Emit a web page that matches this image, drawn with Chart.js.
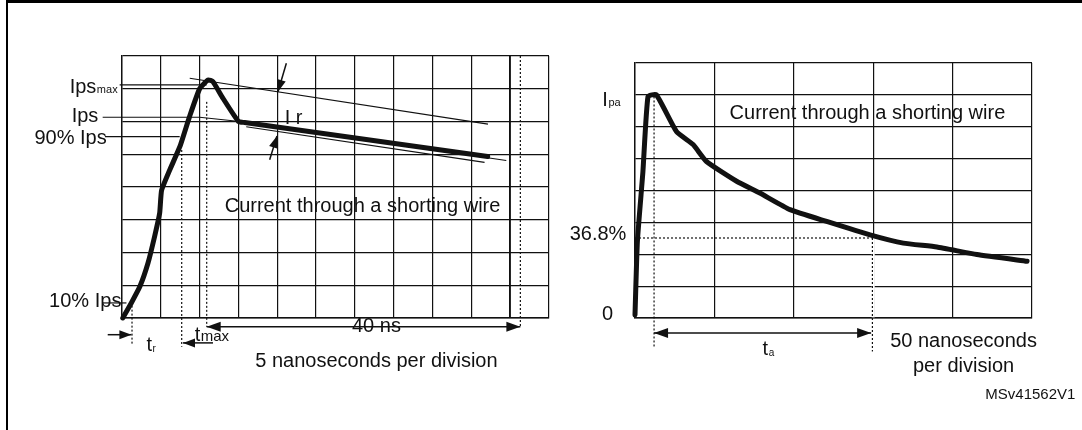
<!DOCTYPE html>
<html>
<head>
<meta charset="utf-8">
<script src="https://cdn.jsdelivr.net/npm/chart.js@4.4.1/dist/chart.umd.min.js"></script>
<style>
  html, body { margin: 0; padding: 0; background: #fff; }
  body { width: 1082px; height: 430px; position: relative; overflow: hidden; }
  #frame { position: absolute; left: 6px; top: 0; width: 1076px; height: 430px;
           border-top: 3px solid #000; border-left: 2px solid #000; box-sizing: border-box; }
  canvas { position: absolute; top: 0; }
  #left { left: 0; }
  #right { left: 560px; }
</style>
</head>
<body>
<div id="frame"></div>
<canvas id="left" width="560" height="430"></canvas>
<canvas id="right" width="522" height="430"></canvas>
<script>
const ink = '#111';
const font = '"Liberation Sans", Arial, sans-serif';

// left panel: x in ns (5 ns per division), y in grid divisions
const pulseNs  = [0.1, 1.2, 2.3, 3.35, 4.2, 4.85, 5.1, 6.15, 7.45, 8.7, 10.0, 11.1, 11.7, 13.0, 15.0, 15.8, 47.1];
const pulseDiv = [0.0, 0.46, 0.96, 1.68, 2.49, 3.2, 3.9, 4.52, 5.23, 6.15, 7.0, 7.27, 7.22, 6.71, 6.0, 5.97, 4.93];

// Ipsmax, Ips, 90% Ips, 10% Ips
const levelDiv = [7.12, 6.13, 5.54, 0.46];

const upperTangentNs  = [8.72, 47.14];
const upperTangentDiv = [7.32, 5.92];
const lowerTangentNs  = [16.0, 46.7];
const lowerTangentDiv = [5.84, 4.75];
const midTangentNs    = [15.55, 49.5];
const midTangentDiv   = [5.99, 4.81];

// time markers (ns): 10% point, 90% point, tmax, tmax + 40 ns
const markerNs = [1.29, 7.69, 10.91, 51.31];

// right panel: x in ns (50 ns per division), y in grid divisions
const decayNs  = [0, 1.5, 5.0, 8.2, 13.5, 26.1, 36.6, 45.0, 64.0, 78.6, 97.6, 120.7, 148.0, 169.0, 190.1, 215.3, 246.9];
const decayDiv = [0.1, 2.4, 4.6, 6.95, 7.0, 5.85, 5.44, 4.91, 4.29, 3.92, 3.40, 3.03, 2.61, 2.35, 2.23, 1.99, 1.78];
const ipaDiv = 7.0;
const decayLevelDiv = 2.51;   // 36.8 % of Ipa
const decayMarkerNs = [12.0, 150];

const xy = (xs, ys) => xs.map((v, i) => ({x: v, y: ys[i]}));

function line(data, width, extra) {
  return Object.assign({
    data, borderColor: ink, borderWidth: width, pointRadius: 0, showLine: true,
    fill: false, clip: false, tension: 0, order: 2
  }, extra || {});
}
const dotted = (data, extra) => line(data, 1.2, Object.assign({borderDash: [2, 2]}, extra || {}));

const notesPlugin = {
  id: 'notes',
  afterDatasetsDraw(chart, args, opts) {
    const {ctx, scales: {x, y}} = chart;
    const px = v => x.getPixelForValue(v), py = v => y.getPixelForValue(v);
    ctx.save();
    ctx.fillStyle = ink;
    ctx.strokeStyle = ink;
    ctx.textBaseline = 'alphabetic';
    (opts.texts || []).forEach(t => {
      ctx.font = (t.size || 20) + 'px ' + font;
      let w = ctx.measureText(t.s).width;
      let sw = 0;
      if (t.sub) {
        ctx.font = (t.subSize || 11) + 'px ' + font;
        sw = ctx.measureText(t.sub).width;
      }
      let left = px(t.x);
      if (t.align === 'right') left -= w + sw;
      if (t.align === 'center') left -= (w + sw) / 2;
      ctx.textAlign = 'left';
      ctx.font = (t.size || 20) + 'px ' + font;
      ctx.fillText(t.s, left, py(t.y));
      if (t.sub) {
        ctx.font = (t.subSize || 11) + 'px ' + font;
        ctx.fillText(t.sub, left + w + 0.5, py(t.y) + (t.drop || 0));
      }
    });
    (opts.arrows || []).forEach(a => {
      const x1 = px(a.x1), y1 = py(a.y1), x2 = px(a.x2), y2 = py(a.y2);
      const len = a.len || 13, half = a.half || 4.5;
      ctx.lineWidth = 1.5;
      ctx.beginPath();
      ctx.moveTo(x1, y1);
      ctx.lineTo(x2, y2);
      ctx.stroke();
      const head = (tx, ty, fx, fy) => {
        const d = Math.hypot(tx - fx, ty - fy), ux = (tx - fx) / d, uy = (ty - fy) / d;
        const bx = tx - ux * len, by = ty - uy * len;
        ctx.beginPath();
        ctx.moveTo(tx, ty);
        ctx.lineTo(bx - uy * half, by + ux * half);
        ctx.lineTo(bx + uy * half, by - ux * half);
        ctx.closePath();
        ctx.fill();
      };
      head(x2, y2, x1, y1);
      if (a.both) head(x1, y1, x2, y2);
    });
    ctx.restore();
  }
};

function panel(id, xMax, xStep, pad, datasets, notes, heavyTick) {
  return new Chart(document.getElementById(id), {
    type: 'scatter',
    data: {datasets},
    options: {
      responsive: false,
      animation: false,
      devicePixelRatio: 1,
      layout: {padding: pad},
      plugins: {legend: {display: false}, tooltip: {enabled: false}, notes},
      scales: {
        x: {
          type: 'linear', min: 0, max: xMax,
          ticks: {display: false, stepSize: xStep},
          grid: {color: ink, drawTicks: false,
                 lineWidth: c => (c.tick && c.tick.value === heavyTick) ? 1.9 : 1.2},
          border: {display: true, color: ink, width: 1.4},
          afterFit: s => { s.height = 0; }
        },
        y: {
          min: 0, max: 8,
          ticks: {display: false, stepSize: 1},
          grid: {color: ink, lineWidth: 1.2, drawTicks: false},
          border: {display: true, color: ink, width: 1.4},
          afterFit: s => { s.width = 0; }
        }
      }
    },
    plugins: [notesPlugin]
  });
}

panel('left', 55, 5, {left: 122, right: 11, top: 56, bottom: 112}, [
  line(xy(pulseNs, pulseDiv), 5, {order: 0, borderJoinStyle: 'round', borderCapStyle: 'round', tension: 0.15}),
  line(xy([-0.3, 10.9], [levelDiv[0], levelDiv[0]]), 1.2),
  line(xy([-2.49, 10.0, 15.16], [levelDiv[1], levelDiv[1], 6.0]), 1.2),
  line(xy([-2.2, 7.43], [levelDiv[2], levelDiv[2]]), 1.2),
  line(xy([-2.45, 0.57], [levelDiv[3], levelDiv[3]]), 1.2),
  line(xy(upperTangentNs, upperTangentDiv), 1.2),
  line(xy(lowerTangentNs, lowerTangentDiv), 1.2),
  line(xy(midTangentNs, midTangentDiv), 1.2),
  dotted(xy([markerNs[0], markerNs[0]], [0.5, -0.84])),
  dotted(xy([markerNs[1], markerNs[1]], [5.13, -0.875])),
  dotted(xy([markerNs[2], markerNs[2]], [6.6, -0.265])),
  dotted(xy([markerNs[3], markerNs[3]], [8.0, -0.265]))
], {
  texts: [
    {s: 'Ips', sub: 'max', x: -6.74, y: 6.87},
    {s: 'Ips', x: -6.48, y: 5.99},
    {s: '90% Ips', x: -1.97, y: 5.32, align: 'right'},
    {s: '10% Ips', x: -0.08, y: 0.345, align: 'right'},
    {s: 'I r', x: 20.95, y: 5.93},
    {s: 'Current through a shorting wire', x: 13.23, y: 3.24},
    {s: '40 ns', x: 32.77, y: -0.42, align: 'center'},
    {s: '5 nanoseconds per division', x: 32.77, y: -1.485, align: 'center'},
    {s: 't', sub: 'r', x: 3.14, y: -1.0, subSize: 10, drop: 1},
    {s: 't', sub: 'max', x: 9.36, y: -0.69, subSize: 15}
  ],
  arrows: [
    {x1: markerNs[2], y1: -0.265, x2: markerNs[3], y2: -0.265, both: true, len: 14, half: 5},
    {x1: -1.84, y1: -0.51, x2: 1.21, y2: -0.51, len: 12},
    {x1: 11.72, y1: -0.76, x2: 7.86, y2: -0.76, len: 12},
    {x1: 21.17, y1: 7.78, x2: 20.09, y2: 6.91, len: 12},
    {x1: 19.02, y1: 4.83, x2: 19.96, y2: 5.56, len: 12}
  ]
}, 50);

panel('right', 250, 50, {left: 75, right: 50, top: 63, bottom: 112}, [
  line(xy(decayNs, decayDiv), 5, {order: 0, borderJoinStyle: 'round', borderCapStyle: 'round', tension: 0.15}),
  dotted(xy([decayMarkerNs[0], decayMarkerNs[0]], [ipaDiv - 0.05, -0.94]), {order: 1}),
  dotted(xy([0, decayMarkerNs[1] - 1], [decayLevelDiv, decayLevelDiv]), {order: 1}),
  line(xy([decayMarkerNs[1], decayMarkerNs[1]], [0.02, decayLevelDiv]), 3, {borderColor: '#fff', order: 5}),
  dotted(xy([decayMarkerNs[1] - 0.5, decayMarkerNs[1] - 0.5], [decayLevelDiv, -1.05]), {order: 1})
], {
  texts: [
    {s: 'I', sub: 'pa', x: -20.56, y: 6.66},
    {s: '36.8%', x: -5.42, y: 2.44, align: 'right'},
    {s: '0', x: -13.75, y: -0.07, align: 'right'},
    {s: 'Current through a shorting wire', x: 59.56, y: 6.23},
    {s: '50 nanoseconds', x: 206.9, y: -0.9, align: 'center'},
    {s: 'per division', x: 206.9, y: -1.69, align: 'center'},
    {s: 't', sub: 'a', x: 80.35, y: -1.15, subSize: 10, drop: 1},
    {s: 'MSv41562V1', x: 277.3, y: -2.53, align: 'right', size: 15}
  ],
  arrows: [
    {x1: decayMarkerNs[0], y1: -0.47, x2: decayMarkerNs[1] - 1.3, y2: -0.47, both: true, len: 14, half: 5}
  ]
}, -1);
</script>
</body>
</html>
